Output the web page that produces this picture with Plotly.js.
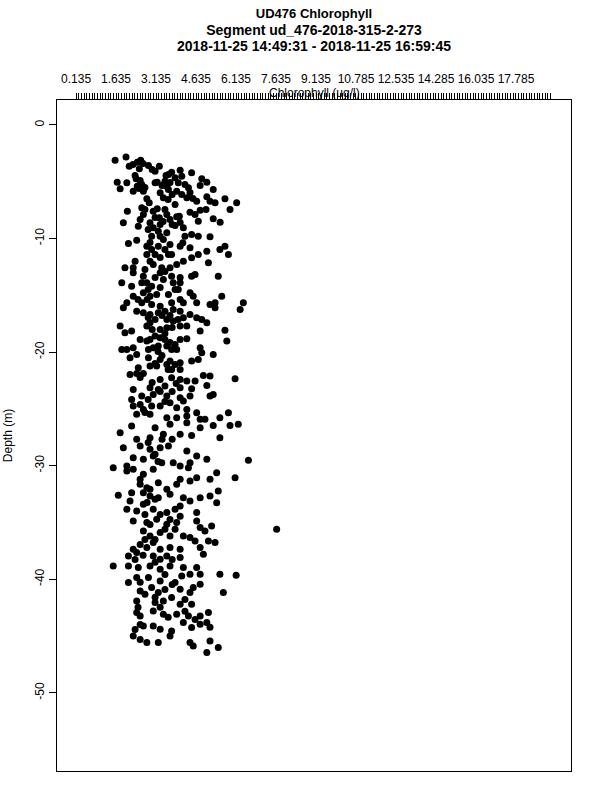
<!DOCTYPE html>
<html>
<head>
<meta charset="utf-8">
<script src="https://cdn.plot.ly/plotly-3.0.1.min.js"></script>
<style>html,body{margin:0;padding:0;background:#fff;}#chart{width:600px;height:800px;}</style>
</head>
<body>
<div id="chart"></div>
<script>
// Chlorophyll (ug/l) readings
var chl = [
1.60,2.01,2.13,2.43,2.56,2.51,2.85,3.26,3.10,3.60,
3.72,4.04,4.47,1.68,1.79,2.04,2.39,2.43,2.60,2.28,
2.66,3.10,3.18,3.47,3.54,3.85,3.97,4.10,4.85,5.04,
4.79,5.28,3.29,3.41,3.60,3.91,4.10,4.29,4.35,4.66,
5.04,5.16,5.35,5.72,5.91,6.16,2.79,2.88,2.60,2.66,
2.54,2.47,2.06,1.91,3.03,3.18,3.47,3.54,3.26,3.66,
3.91,4.01,4.41,4.60,4.79,5.01,4.72,5.28,5.54,2.91,
3.03,2.97,3.22,3.29,3.54,3.85,4.16,4.22,4.47,4.72,
5.16,2.10,2.41,2.79,2.79,2.97,3.22,3.60,3.72,3.41,
4.04,4.14,4.41,4.72,5.04,5.53,5.72,5.85,2.35,2.28,
1.97,2.28,2.91,3.03,3.35,3.66,3.91,4.16,4.47,5.10,
2.66,2.60,2.79,2.97,3.29,3.41,3.72,3.78,4.04,3.97,
4.47,4.60,5.47,1.85,2.22,2.28,2.04,2.66,2.91,3.16,
2.60,2.97,3.60,3.72,4.04,4.16,4.41,4.53,4.66,5.16,
5.35,5.60,6.41,1.91,5.35,6.29,3.29,2.41,2.66,2.91,
3.22,3.47,3.78,4.04,2.91,3.10,3.54,3.78,4.16,4.41,
4.66,4.85,5.04,1.79,1.97,2.22,2.79,3.29,3.54,4.04,
4.29,4.79,5.72,5.79,2.54,2.79,3.10,3.29,3.47,4.04,
4.29,1.85,2.04,2.28,2.85,3.03,3.22,3.54,3.72,3.91,
4.79,4.85,5.28,2.16,2.41,2.85,3.29,3.66,4.04,4.47,
4.72,2.91,3.16,3.54,3.72,4.04,2.47,2.16,2.41,2.66,
3.29,3.72,4.04,4.29,4.60,4.91,5.16,6.10,2.28,2.91,
3.22,3.47,4.04,4.47,5.04,2.22,2.60,3.03,3.54,4.04,
4.41,5.16,5.28,2.28,2.66,2.97,3.29,3.66,3.91,4.16,
4.29,2.41,2.91,3.54,3.91,4.29,4.66,4.79,4.97,5.85,
5.53,2.22,3.10,3.66,4.29,4.79,5.28,5.91,6.22,1.79,
2.41,2.91,3.41,4.04,4.47,5.53,1.91,2.54,2.91,3.29,
3.60,4.29,4.66,5.04,6.60,2.28,2.66,3.03,3.35,3.78,
4.41,2.04,1.53,2.04,2.28,2.66,3.03,4.04,
4.35,4.66,4.41,5.16,5.41,6.10,2.54,2.79,3.22,3.54,
3.91,4.04,1.72,2.22,2.16,2.66,2.91,3.22,3.66,4.16,
4.41,4.79,5.16,5.47,5.41,2.04,2.41,2.66,3.03,3.54,
3.85,4.04,4.66,2.28,2.79,3.16,3.54,3.91,4.66,4.79,
5.22,4.97,7.66,2.66,2.91,3.29,3.66,4.16,4.41,4.60,
5.10,5.35,2.28,2.79,3.03,3.29,3.66,4.04,4.79,4.91,
2.10,2.41,3.03,3.29,3.54,4.04,1.53,2.10,2.47,2.91,
3.29,3.66,4.16,4.66,5.53,6.14,2.10,2.41,2.85,3.29,
3.85,4.10,4.41,4.79,4.79,2.54,2.97,3.22,3.72,4.04,
4.41,4.53,5.66,2.41,3.10,3.41,4.04,4.47,2.41,2.54,
3.03,3.41,3.91,4.35,4.79,5.10,5.04,2.66,3.03,3.29,
3.72,4.16,4.47,4.79,2.28,2.79,3.22,3.66,4.41,4.53,5.16,5.04,5.47,
2.27,2.65,2.99,3.51,2.35,2.54,2.50,2.72,3.36,3.66,
3.74,3.59,3.85,4.22,4.41,4.52,2.72,3.10,3.29,2.84,
3.40,3.74,4.04,2.91,3.10,3.47,3.66,3.29,2.72,3.10,
2.84,3.29,3.47,2.46,2.80,3.85,4.04,2.84,3.36,3.66,
3.96,2.99,3.47,3.74,2.91,3.66,3.21,3.85,3.36,3.59,
3.10,3.85,2.54,2.99,3.29,2.84,3.47,3.74,3.89,2.54,
2.72,2.84,3.10,3.36,3.21,3.74,2.54,2.91,3.10,2.80,
2.72,2.91,3.29,3.47,3.10,3.66,2.72,3.85,4.04,2.35,
2.65,2.54,3.10,3.47,3.74,2.54,2.72,3.10,3.47,3.74,
4.22,2.46,2.54,3.29,3.59,4.22,4.60,5.16,2.35,2.54
];
// Depth (m), same order as chl
var depth = [
-3.12,-2.82,-3.64,-3.29,-3.12,-3.87,-3.58,-3.64,-4.08,-4.37,
-4.17,-4.00,-4.22,-5.05,-5.63,-5.10,-4.75,-5.40,-5.25,-5.84,
-5.84,-5.10,-5.05,-4.96,-5.40,-4.66,-5.10,-4.52,-4.75,-5.05,
-5.34,-5.69,-5.98,-6.42,-5.69,-5.84,-6.13,-6.42,-5.54,-6.72,
-6.34,-6.72,-6.86,-6.51,-7.45,-6.86,-6.51,-6.86,-7.30,-7.89,
-8.33,-8.92,-7.60,-8.62,-7.60,-7.39,-7.45,-7.89,-8.18,-8.33,
-8.10,-8.04,-7.69,-7.89,-7.52,-7.45,-8.48,-8.27,-8.57,-8.62,
-9.06,-9.80,-9.36,-9.80,-9.50,-8.86,-9.06,-9.80,-9.65,-9.80,
-9.86,-10.45,-10.16,-10.68,-11.41,-10.97,-10.68,-11.41,-11.41,-10.09,
-10.68,-10.38,-10.82,-11.41,-11.12,-10.97,-10.68,-11.41,-12.00,-12.58,
-12.58,-13.02,-12.00,-12.29,-12.58,-12.58,-12.29,-12.00,-11.70,-12.14,
-13.32,-13.90,-13.90,-14.20,-13.02,-13.61,-13.32,-13.90,-13.90,-14.49,
-13.32,-13.17,-13.32,-13.90,-14.20,-15.08,-15.66,-14.78,-15.08,-14.93,
-15.66,-15.81,-14.93,-15.66,-15.37,-15.66,-14.78,-15.08,-15.66,-15.81,
-15.66,-15.08,-15.66,-16.10,-16.10,-16.25,-15.96,-16.40,-16.54,-16.69,
-16.54,-16.40,-16.25,-16.40,-17.42,-17.13,-17.13,-17.28,-16.98,-16.69,
-16.98,-17.13,-17.42,-17.72,-18.30,-18.16,-17.72,-18.01,-17.86,-17.72,
-17.72,-18.16,-18.08,-19.04,-18.89,-19.04,-18.60,-18.74,-18.89,-18.89,
-18.83,-19.77,-19.77,-19.62,-19.77,-19.62,-19.48,-19.48,-19.77,-19.77,
-19.62,-20.06,-20.21,-20.50,-20.21,-20.50,-20.65,-20.80,-20.94,-20.80,
-20.65,-21.24,-21.24,-21.09,-21.53,-21.53,-21.38,-21.97,-21.89,-21.89,
-22.41,-22.26,-22.41,-22.56,-22.56,-22.06,-22.12,-22.35,-23.29,-23.14,
-23.29,-23.00,-23.14,-23.23,-22.94,-24.17,-23.88,-23.73,-23.88,-24.02,
-23.88,-23.88,-23.73,-24.76,-25.05,-24.76,-24.76,-24.46,-24.90,-24.32,
-25.05,-25.49,-25.49,-25.78,-25.78,-25.64,-25.34,-25.93,-25.93,-25.34,
-25.78,-26.52,-26.66,-26.37,-26.22,-26.66,-26.46,-26.46,-26.37,-27.10,
-27.69,-27.54,-27.25,-27.25,-27.34,-27.54,-28.42,-28.28,-28.57,-28.42,
-28.28,-28.72,-29.16,-29.45,-29.52,-29.30,-29.45,-29.16,-29.74,-29.74,
-29.74,-30.04,-30.18,-30.48,-30.33,-30.77,-30.33,-30.04,
-30.18,-31.06,-31.36,-31.21,-30.62,-31.06,-31.65,-31.94,-31.50,-32.09,
-31.65,-31.21,-32.62,-32.38,-33.12,-32.38,-32.68,-32.82,-32.53,-32.82,
-33.12,-32.82,-32.68,-32.24,-33.26,-33.85,-34.00,-33.41,-33.85,-34.14,
-33.85,-33.56,-34.14,-34.88,-35.02,-34.73,-35.17,-35.02,-34.88,-35.46,
-35.32,-35.76,-35.61,-35.76,-36.20,-35.90,-36.20,-36.20,-36.34,-36.64,
-36.64,-36.78,-37.37,-37.22,-36.78,-37.37,-37.22,-37.37,-37.22,-37.81,
-37.96,-37.66,-37.96,-38.25,-37.96,-38.10,-38.84,-38.84,-38.98,-38.84,
-39.13,-38.84,-38.98,-38.98,-39.57,-39.66,-40.30,-39.86,-39.86,-40.16,
-40.30,-39.72,-39.57,-39.57,-40.45,-41.04,-40.74,-41.18,-41.62,-40.89,
-41.18,-40.74,-41.18,-41.92,-42.06,-41.92,-42.21,-42.21,-42.94,-43.24,
-42.80,-43.09,-43.09,-43.24,-43.24,-42.94,-43.82,-44.12,-44.12,-44.41,
-44.56,-43.82,-44.26,-43.97,-45.00,-45.58,-45.58,-45.00,-45.58,-45.88,-45.44,-46.46,-46.02,
-3.49,-3.41,-3.93,-4.46,-4.46,-4.90,-5.61,-5.52,-5.34,-5.08,
-6.13,-6.57,-7.01,-5.25,-5.96,-6.49,-7.45,-8.16,-8.77,-9.21,
-8.51,-8.77,-8.60,-10.36,-11.41,-10.97,-10.53,-11.68,-12.73,-13.44,
-14.49,-14.32,-12.91,-15.38,-15.38,-14.49,-13.44,-16.96,-16.78,-16.78,
-17.13,-18.02,-18.37,-17.84,-18.90,-19.16,-19.95,-19.33,-20.30,-21.53,
-21.01,-21.10,-22.24,-22.68,-23.47,-24.18,-24.35,-23.47,-22.77,-24.62,
-25.32,-27.96,-29.01,-27.69,-29.63,-27.69,-31.21,-32.09,-32.97,-33.24,
-34.30,-35.18,-34.30,-35.61,-36.50,-34.74,-36.50,-35.61,-34.47,-38.26,
-37.90,-36.94,-38.52,-39.58,-38.26,-40.28,-41.33,-41.60,-40.90,-40.46,
-41.78,-42.48,-43.98,-42.48,-43.36,-42.83,-43.54,-44.24,-44.42,-45.30
];
// Top axis tick labels (as printed on the chart)
var xTickLabels = ["0.135","1.635","3.135","4.635","6.135","7.635","9.135","10.785","12.535","14.285","16.035","17.785"];
var yTickVals = [0,-10,-20,-30,-40,-50];

var xMin = 0.135, xMax = 17.985, xStep = 0.1, labelEvery = 15;
var xPad = (xMax - xMin) * 0.04;
var yMin = -54.7, yMax = 0;
var yPad = (yMax - yMin) * 0.04;

var tickvals = [], ticktext = [];
var nT = Math.round((xMax - xMin) / xStep);
for (var i = 0; i <= nT; i++) {
  tickvals.push(+(xMin + i * xStep).toFixed(3));
  var li = i / labelEvery;
  ticktext.push((i % labelEvery === 0 && li < xTickLabels.length) ? xTickLabels[li] : "");
}

var n = Math.min(chl.length, depth.length);
var trace = {
  x: chl.slice(0, n), y: depth.slice(0, n),
  type: 'scatter', mode: 'markers',
  marker: {color: '#000', size: 7, line: {width: 0}},
  hoverinfo: 'skip', showlegend: false
};

var font = 'Liberation Sans, Arial, sans-serif';
var layout = {
  width: 600, height: 800,
  margin: {l: 57, r: 29, t: 100, b: 29, pad: 0},
  paper_bgcolor: '#fff', plot_bgcolor: '#fff',
  font: {family: font, size: 12, color: '#000'},
  title: {
    text: '<b>UD476 Chlorophyll</b><br><b style="font-size:14px">Segment ud_476-2018-315-2-273</b><br><b style="font-size:14px">2018-11-25 14:49:31 - 2018-11-25 16:59:45</b>',
    font: {family: font, size: 13, color: '#000'},
    x: 0.5, xref: 'paper', y: 0.978, yref: 'container', yanchor: 'top'
  },
  xaxis: {
    side: 'top', range: [xMin - xPad, xMax + xPad],
    tickmode: 'array', tickvals: tickvals, ticktext: ticktext,
    ticks: 'outside', ticklen: 6, tickwidth: 1, tickcolor: '#000',
    tickangle: 0, ticklabelstandoff: 5,
    tickfont: {family: font, size: 12, color: '#000'},
    showline: true, linecolor: '#000', linewidth: 1, mirror: true,
    showgrid: false, zeroline: false
  },
  yaxis: {
    range: [yMin - yPad, yMax + yPad],
    tickmode: 'array', tickvals: yTickVals, ticktext: yTickVals.map(String),
    ticks: 'outside', ticklen: 7, tickwidth: 1, tickcolor: '#000',
    tickangle: -90,
    tickfont: {family: font, size: 12, color: '#000'},
    showline: true, linecolor: '#000', linewidth: 1, mirror: true,
    showgrid: false, zeroline: false,
    title: {text: 'Depth (m)', font: {family: font, size: 12, color: '#000'}, standoff: 18}
  },
  annotations: [{
    text: 'Chlorophyll (ug/l)', xref: 'paper', yref: 'paper',
    x: 0.5, y: 1.0104, xanchor: 'center', yanchor: 'middle',
    showarrow: false, font: {family: font, size: 12, color: '#000'}
  }]
};

Plotly.newPlot('chart', [trace], layout, {staticPlot: true, displayModeBar: false});
</script>
</body>
</html>
